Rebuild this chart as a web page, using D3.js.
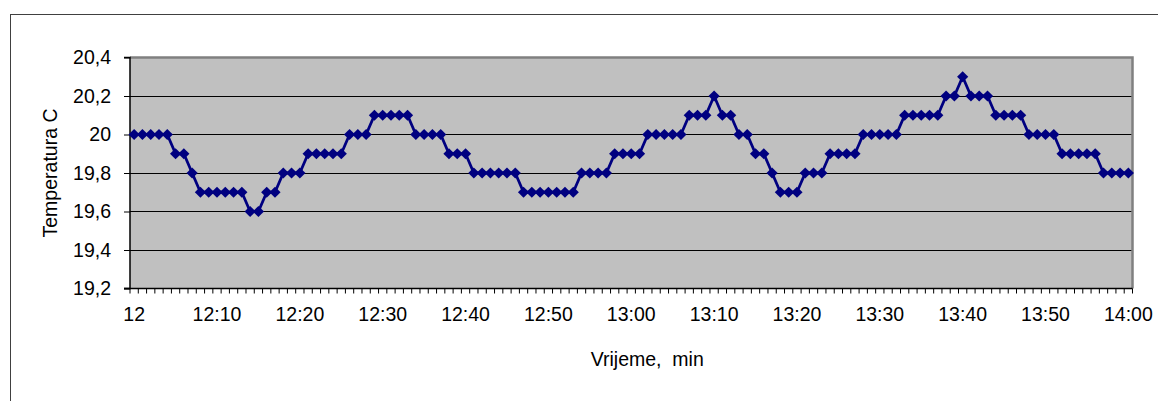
<!DOCTYPE html>
<html>
<head>
<meta charset="utf-8">
<script src="https://cdn.jsdelivr.net/npm/d3@7"></script>
<style>
  html, body { margin: 0; padding: 0; background: #fff; }
  svg { display: block; }
  text { font-family: "Liberation Sans", Arial, sans-serif; fill: #000; }
</style>
</head>
<body>
<script>
// ---- data ----
const minutesCount = 121; // 12:00 .. 14:00, one reading per minute
const temperatures = [
  20.0, 20.0, 20.0, 20.0, 20.0, 19.9, 19.9, 19.8, 19.7, 19.7,
  19.7, 19.7, 19.7, 19.7, 19.6, 19.6, 19.7, 19.7, 19.8, 19.8,
  19.8, 19.9, 19.9, 19.9, 19.9, 19.9, 20.0, 20.0, 20.0, 20.1,
  20.1, 20.1, 20.1, 20.1, 20.0, 20.0, 20.0, 20.0, 19.9, 19.9,
  19.9, 19.8, 19.8, 19.8, 19.8, 19.8, 19.8, 19.7, 19.7, 19.7,
  19.7, 19.7, 19.7, 19.7, 19.8, 19.8, 19.8, 19.8, 19.9, 19.9,
  19.9, 19.9, 20.0, 20.0, 20.0, 20.0, 20.0, 20.1, 20.1, 20.1,
  20.2, 20.1, 20.1, 20.0, 20.0, 19.9, 19.9, 19.8, 19.7, 19.7,
  19.7, 19.8, 19.8, 19.8, 19.9, 19.9, 19.9, 19.9, 20.0, 20.0,
  20.0, 20.0, 20.0, 20.1, 20.1, 20.1, 20.1, 20.1, 20.2, 20.2,
  20.3, 20.2, 20.2, 20.2, 20.1, 20.1, 20.1, 20.1, 20.0, 20.0,
  20.0, 20.0, 19.9, 19.9, 19.9, 19.9, 19.9, 19.8, 19.8, 19.8,
  19.8
];
const xTickLabels = ["12", "12:10", "12:20", "12:30", "12:40", "12:50", "13:00",
                     "13:10", "13:20", "13:30", "13:40", "13:50", "14:00"];
const yTickValues = [19.2, 19.4, 19.6, 19.8, 20.0, 20.2, 20.4];
const yTickLabels = ["19,2", "19,4", "19,6", "19,8", "20", "20,2", "20,4"];
const xTitle = "Vrijeme,  min";
const yTitle = "Temperatura C";

// categories (minute index -> label)
const categories = d3.range(minutesCount).map(i => {
  const h = 12 + Math.floor(i / 60), m = i % 60;
  return h + ":" + String(m).padStart(2, "0");
});

// ---- layout ----
const W = 1158, H = 401;
const plot = { left: 130, right: 1132.5, top: 57.5, bottom: 288.5 };
const fontSize = 19.5;

const svg = d3.select("body").append("svg").attr("width", W).attr("height", H);

// outer chart frame (only top & left visible)
svg.append("rect")
  .attr("x", 10.5).attr("y", 14.5).attr("width", 1300).attr("height", 600)
  .attr("fill", "none").attr("stroke", "#404040").attr("stroke-width", 1);

const x = d3.scaleBand().domain(categories).range([plot.left, plot.right]).padding(0);
const y = d3.scaleLinear().domain([19.2, 20.4]).range([plot.bottom, plot.top]);

// plot background
svg.append("rect")
  .attr("x", plot.left).attr("y", plot.top)
  .attr("width", plot.right - plot.left).attr("height", plot.bottom - plot.top)
  .attr("fill", "#C0C0C0");

// gridlines
svg.append("g").selectAll("line")
  .data(yTickValues.filter(v => v > 19.2 && v < 20.4))
  .join("line")
  .attr("x1", plot.left).attr("x2", plot.right)
  .attr("y1", d => Math.round(y(d)) + 0.5).attr("y2", d => Math.round(y(d)) + 0.5)
  .attr("stroke", "#000").attr("stroke-width", 1);

// plot border (top & right gray)
svg.append("path")
  .attr("d", `M${plot.left},${plot.top} H${plot.right} V${plot.bottom}`)
  .attr("fill", "none").attr("stroke", "#808080").attr("stroke-width", 2.5);

// y axis
const yAxis = d3.axisLeft(y)
  .tickValues(yTickValues)
  .tickFormat((d, i) => yTickLabels[i])
  .tickSize(6).tickPadding(13);
const gy = svg.append("g").attr("transform", `translate(${plot.left},0)`).call(yAxis);
gy.select(".domain").attr("stroke", "#000").attr("stroke-width", 1.5)
  .attr("d", `M-6,${plot.top}H0V${plot.bottom}H-6`);
gy.selectAll(".tick line").attr("stroke", "#000");
gy.selectAll(".tick text").attr("font-size", fontSize)
  .attr("font-family", '"Liberation Sans", Arial, sans-serif').attr("fill", "#000");

// x axis: tick marks at category boundaries
const boundaries = d3.range(minutesCount + 1).map(i => plot.left + i * x.bandwidth());
svg.append("g").selectAll("line").data(boundaries).join("line")
  .attr("x1", d => d).attr("x2", d => d)
  .attr("y1", plot.bottom).attr("y2", plot.bottom + 5)
  .attr("stroke", "#000").attr("stroke-width", 1);
svg.append("line")
  .attr("x1", plot.left - 6).attr("x2", plot.right)
  .attr("y1", plot.bottom).attr("y2", plot.bottom)
  .attr("stroke", "#000").attr("stroke-width", 1.5);

// x tick labels every 10 minutes
svg.append("g").selectAll("text").data(xTickLabels).join("text")
  .attr("x", (d, i) => x(categories[i * 10]) + x.bandwidth() / 2)
  .attr("y", 321)
  .attr("text-anchor", "middle")
  .attr("font-size", fontSize)
  .text(d => d);

// axis titles
svg.append("text")
  .attr("x", (plot.left + plot.right) / 2 + 16).attr("y", 366)
  .attr("text-anchor", "middle").attr("font-size", fontSize)
  .attr("xml:space", "preserve")
  .style("white-space", "pre")
  .text(xTitle);
svg.append("text")
  .attr("transform", `translate(57,${(plot.top + plot.bottom) / 2}) rotate(-90)`)
  .attr("text-anchor", "middle").attr("font-size", fontSize)
  .text(yTitle);

// line
const line = d3.line()
  .x((d, i) => x(categories[i]) + x.bandwidth() / 2)
  .y(d => y(d));
svg.append("path").datum(temperatures)
  .attr("d", line)
  .attr("fill", "none").attr("stroke", "#000080").attr("stroke-width", 2.8)
  .attr("stroke-linejoin", "round");

// diamond markers
const r = 5.6;
svg.append("g").selectAll("path").data(temperatures).join("path")
  .attr("transform", (d, i) => `translate(${x(categories[i]) + x.bandwidth() / 2},${y(d)})`)
  .attr("d", `M0,${-r}L${r},0L0,${r}L${-r},0Z`)
  .attr("fill", "#000080");
</script>
</body>
</html>
